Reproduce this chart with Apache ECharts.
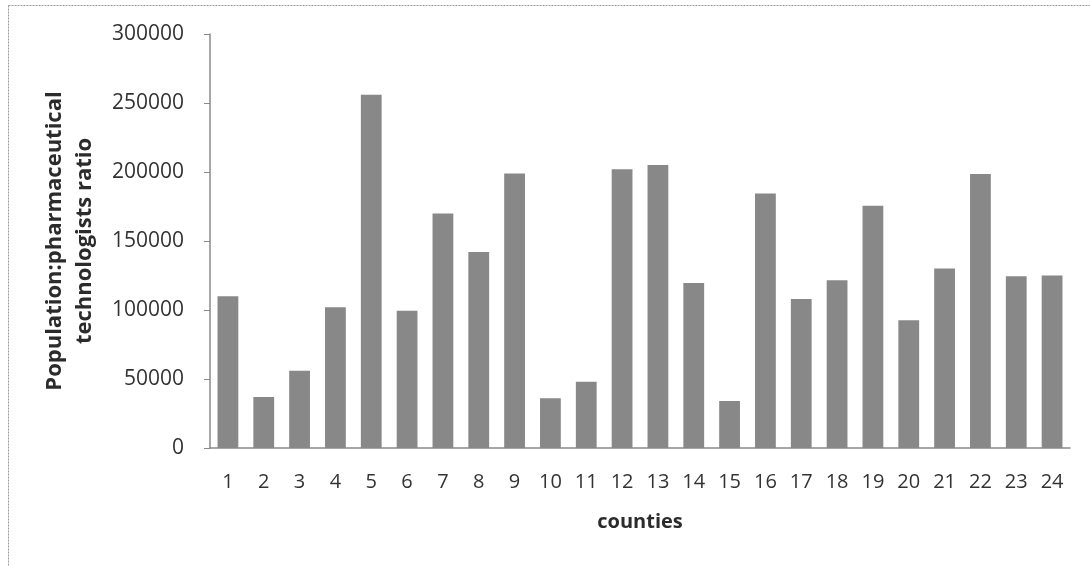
<!DOCTYPE html>
<html>
<head>
<meta charset="utf-8">
<script src="https://cdn.jsdelivr.net/npm/echarts@6/dist/echarts.min.js"></script>
<style>
  html, body { margin: 0; padding: 0; background: #fff; }
  #chart { width: 1090px; height: 566px; }
</style>
</head>
<body>
<div id="chart"></div>
<script>
// Counties 1..24 and their population per pharmaceutical technologist
const counties = ['1','2','3','4','5','6','7','8','9','10','11','12','13','14','15','16','17','18','19','20','21','22','23','24'];
const ratio = [110000, 37000, 56000, 102000, 256000, 99500, 170000, 142000, 199000, 36000, 48000, 202000,
               205000, 119500, 34000, 184500, 108000, 121500, 175500, 92500, 130000, 198500, 124500, 125000];
const yTicks = { min: 0, max: 300000, interval: 50000 };

const FONT = '"Open Sans", Lato, sans-serif';
const chart = echarts.init(document.getElementById('chart'), null, { renderer: 'canvas' });

chart.setOption({
  backgroundColor: '#ffffff',
  animation: false,
  graphic: [{
    type: 'rect',
    shape: { x: 8.5, y: 5.5, width: 1200, height: 700 },
    style: { fill: 'none', stroke: '#9a9a9a', lineWidth: 1, lineDash: [2, 1] },
    silent: true
  }],
  grid: { left: 210, right: 20, top: 34, bottom: 118, containLabel: false },
  xAxis: {
    type: 'category',
    data: counties,
    name: 'counties',
    nameLocation: 'middle',
    nameGap: 64,
    nameTextStyle: { fontFamily: FONT, fontSize: 20, fontWeight: 'bold', color: '#2b2b2b' },
    axisLine: { lineStyle: { color: '#8a8a8a', width: 1.5 } },
    axisTick: { show: false },
    axisLabel: { fontFamily: FONT, fontSize: 20, color: '#333', margin: 24, interval: 0 }
  },
  yAxis: {
    type: 'value',
    min: yTicks.min,
    max: yTicks.max,
    interval: yTicks.interval,
    name: 'Population:pharmaceutical\ntechnologists ratio',
    nameLocation: 'middle',
    nameGap: 110,
    nameRotate: 90,
    nameTextStyle: { fontFamily: FONT, fontSize: 22, fontWeight: 'bold', color: '#2b2b2b', lineHeight: 30, align: 'center' },
    axisLine: { show: true, lineStyle: { color: '#8a8a8a', width: 1.5 } },
    axisTick: { show: true, length: 6, lineStyle: { color: '#8a8a8a' } },
    splitLine: { show: false },
    axisLabel: { fontFamily: FONT, fontSize: 21, color: '#333', margin: 26, formatter: v => String(v) }
  },
  series: [{
    type: 'bar',
    data: ratio,
    barWidth: '58%',
    itemStyle: { color: '#888888' }
  }]
});
</script>
</body>
</html>
